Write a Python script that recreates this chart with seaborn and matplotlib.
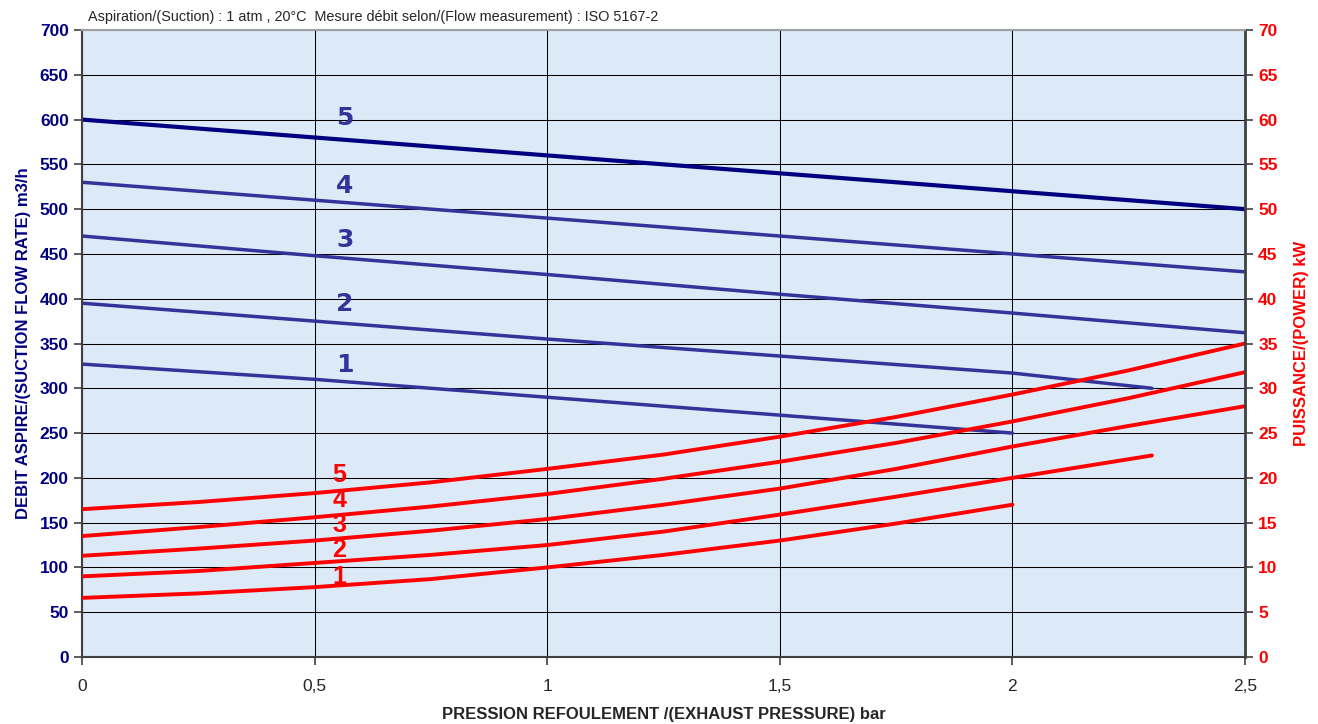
import numpy as np
import pandas as pd
import matplotlib
matplotlib.use("Agg")
import matplotlib.pyplot as plt
import seaborn as sns

# flow rate curves (m3/h) vs exhaust pressure (bar)
x_full = [0, 0.5, 1.0, 1.5, 2.0, 2.5]
flow_5 = [600, 580, 560, 540, 520, 500]
flow_4 = [530, 510, 490, 470, 450, 430]
flow_3 = [470, 448, 427, 405, 384, 362]
x_flow_2 = [0, 0.5, 1.0, 1.5, 2.0, 2.3]
flow_2 = [395, 375, 355, 336, 317, 300]
x_flow_1 = [0, 0.5, 1.0, 1.5, 2.0]
flow_1 = [327, 310, 290, 270, 250]

# power curves (kW)
x_pow = [0, 0.25, 0.5, 0.75, 1.0, 1.25, 1.5, 1.75, 2.0, 2.25, 2.5]
power_5 = [16.5, 17.3, 18.3, 19.5, 21.0, 22.6, 24.6, 26.8, 29.3, 32.0, 35.0]
power_4 = [13.5, 14.5, 15.6, 16.8, 18.2, 19.9, 21.8, 23.9, 26.3, 28.9, 31.8]
power_3 = [11.3, 12.1, 13.0, 14.1, 15.4, 17.0, 18.8, 21.0, 23.5, 25.8, 28.0]
x_pow_2 = [0, 0.25, 0.5, 0.75, 1.0, 1.25, 1.5, 1.75, 2.0, 2.3]
power_2 = [9.0, 9.6, 10.5, 11.4, 12.5, 14.0, 15.9, 17.9, 20.0, 22.5]
x_pow_1 = [0, 0.25, 0.5, 0.75, 1.0, 1.25, 1.5, 1.75, 2.0]
power_1 = [6.6, 7.1, 7.8, 8.7, 10.0, 11.4, 13.0, 14.9, 17.0]

flow_label_y = [326, 394, 465, 526, 602]
power_label_y = [8.9, 11.9, 14.7, 17.5, 20.3]
curve_names = ["1", "2", "3", "4", "5"]

x_ticks = [0, 0.5, 1, 1.5, 2, 2.5]
x_tick_labels = ["0", "0,5", "1", "1,5", "2", "2,5"]

sns.set_style("white")
plt.rcParams['font.family'] = ['Liberation Sans', 'DejaVu Sans']

navy = "#000080"
blue = "#333399"
red = "#ff0000"

fig = plt.figure(figsize=(13.18, 7.24), dpi=100)
ax = fig.add_axes([82 / 1318, 67 / 724, 1163 / 1318, 627 / 724])
ax2 = ax.twinx()
ax.set_facecolor("#dce9f6")

# flow curves on left axis
sns.lineplot(x=x_full, y=flow_5, ax=ax, color=navy, linewidth=3)
sns.lineplot(x=x_full, y=flow_4, ax=ax, color=blue, linewidth=2.5)
sns.lineplot(x=x_full, y=flow_3, ax=ax, color=blue, linewidth=2.5)
sns.lineplot(x=x_flow_2, y=flow_2, ax=ax, color=blue, linewidth=2.5)
sns.lineplot(x=x_flow_1, y=flow_1, ax=ax, color=blue, linewidth=2.5)

# power curves on right axis
sns.lineplot(x=x_pow, y=power_5, ax=ax2, color=red, linewidth=2.8)
sns.lineplot(x=x_pow, y=power_4, ax=ax2, color=red, linewidth=2.8)
sns.lineplot(x=x_pow, y=power_3, ax=ax2, color=red, linewidth=2.8)
sns.lineplot(x=x_pow_2, y=power_2, ax=ax2, color=red, linewidth=2.8)
sns.lineplot(x=x_pow_1, y=power_1, ax=ax2, color=red, linewidth=2.8)

for name, yv in zip(curve_names, flow_label_y):
    ax.text(0.565, yv, name, color=blue, fontsize=18, fontweight="heavy",
            family=["DejaVu Sans"], ha="center", va="center")
for name, yv in zip(curve_names, power_label_y):
    ax2.text(0.553, yv, name, color=red, fontsize=18, fontweight="bold",
             family=["Liberation Sans Narrow", "Liberation Sans"], ha="center", va="center")

ax.set_xlim(0, 2.5)
ax.set_ylim(0, 700)
ax2.set_ylim(0, 70)
ax.set_xticks(x_ticks)
ax.set_xticklabels(x_tick_labels, fontsize=12.5)
ax.set_yticks(np.arange(0, 701, 50))
ax2.set_yticks(np.arange(0, 71, 5))
ax.tick_params(axis="y", labelsize=12.5, labelcolor=navy, length=6, width=1.2, color="#404040", direction="out", left=True)
ax.tick_params(axis="x", length=6, width=1.2, color="#404040", direction="out", bottom=True, pad=10)
ax2.tick_params(axis="y", labelsize=12.5, labelcolor=red, length=6, width=1.2, color="#404040", direction="out", right=True)
for lab in ax.get_yticklabels():
    lab.set_fontweight("bold")
for lab in ax2.get_yticklabels():
    lab.set_fontweight("bold")

ax.grid(True, color="black", linewidth=0.75)
ax.set_axisbelow(True)

for s in ["left", "bottom"]:
    ax.spines[s].set_color("#404040")
    ax.spines[s].set_linewidth(1.5)
ax2.spines["right"].set_color("#404040")
ax2.spines["right"].set_linewidth(2)
ax2.spines["top"].set_color("#a0a0a0")
ax2.spines["top"].set_linewidth(1.5)
ax.spines["top"].set_visible(False)
ax.spines["right"].set_visible(False)
ax2.spines["left"].set_visible(False)
ax2.spines["bottom"].set_visible(False)

ax.set_xlabel("")
fig.text(664 / 1318, 1 - 715 / 724, "PRESSION REFOULEMENT /(EXHAUST PRESSURE) bar",
         fontsize=12, fontweight="bold", ha="center", va="center")
ax.set_ylabel("DEBIT ASPIRE/(SUCTION FLOW RATE) m3/h", fontsize=12, fontweight="bold", color=navy, labelpad=6)
ax2.set_ylabel("PUISSANCE/(POWER) kW", fontsize=12, fontweight="bold", color=red, labelpad=12)

fig.text(88 / 1318, 1 - 17 / 724, "Aspiration/(Suction) : 1 atm , 20°C  Mesure débit selon/(Flow measurement) : ISO 5167-2",
         fontsize=10.4, va="center", ha="left")

fig.savefig("out.png", dpi=100, facecolor="white")
